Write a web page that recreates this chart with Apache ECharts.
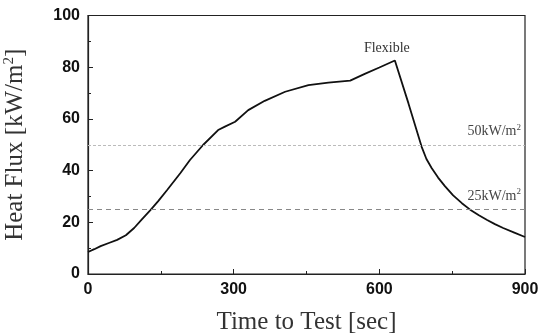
<!DOCTYPE html>
<html>
<head>
<meta charset="utf-8">
<script src="https://cdn.jsdelivr.net/npm/echarts@6/dist/echarts.min.js"></script>
<style>
  html, body { margin: 0; padding: 0; background: #fff; }
  #chart { width: 543px; height: 334px; }
</style>
</head>
<body>
<div id="chart"></div>
<script>
// time (sec) and heat flux (kW/m2)
var times = [0, 13, 26, 43, 60, 78, 95, 110, 129, 145, 163, 190, 210, 237, 268, 282, 303, 330, 364, 406, 454, 495, 540, 570, 600, 632, 660, 687, 697, 708, 721, 735, 752, 770, 787, 805, 822, 838, 855, 878, 900];
var flux  = [8.5, 9.6, 10.8, 12.0, 13.2, 15.0, 17.8, 20.9, 24.8, 28.3, 32.5, 39.0, 44.1, 49.9, 55.7, 57.0, 58.9, 63.4, 67.0, 70.5, 73.1, 74.0, 74.8, 77.4, 79.9, 82.6, 66.0, 49.3, 44.5, 40.9, 37.3, 34.0, 30.4, 27.4, 24.9, 22.7, 20.9, 19.3, 17.8, 16.0, 14.3];
var refLevels = [50, 25];
var refLabels = ['50kW/m{s|2}', '25kW/m{s|2}'];
var peakLabel = 'Flexible';

var points = times.map(function (t, i) { return [t, flux[i]]; });
var peakIdx = flux.indexOf(Math.max.apply(null, flux));

var serif = '"Liberation Serif", "DejaVu Serif", serif';
var sans = '"Liberation Sans", Arial, sans-serif';

var option = {
    animation: false,
    backgroundColor: '#fff',
    grid: {
        left: 88, right: 18, top: 15.5, bottom: 60,
        outerBoundsMode: 'none',
        containLabel: false,
        show: true, borderColor: '#222', borderWidth: 1.2
    },
    xAxis: {
        type: 'value',
        min: 0, max: 900, interval: 300,
        name: 'Time to Test [sec]',
        nameLocation: 'middle',
        nameGap: 36,
        nameTextStyle: { fontFamily: serif, fontSize: 25, color: '#333', verticalAlign: 'top' },
        axisLine: { lineStyle: { color: '#222', width: 1.2 } },
        axisTick: { inside: true, length: 5, lineStyle: { color: '#222' } },
        minorTick: { show: true, splitNumber: 2, length: 3, lineStyle: { color: '#222' } },
        splitLine: { show: false },
        axisLabel: { fontFamily: sans, fontWeight: 'bold', fontSize: 16, color: '#111', margin: 8 }
    },
    yAxis: {
        type: 'value',
        min: 0, max: 100, interval: 20,
        name: '{a|Heat Flux [kW/m}{s|2}{a|]}',
        nameLocation: 'middle',
        nameGap: 60,
        nameTextStyle: {
            rich: {
                a: { fontFamily: serif, fontSize: 25, color: '#333' },
                s: { fontFamily: serif, fontSize: 15, color: '#333', padding: [0, 0, 11, 0] }
            }
        },
        axisLine: { show: true, lineStyle: { color: '#222', width: 1.2 } },
        axisTick: { show: true, inside: true, length: 5, lineStyle: { color: '#222' } },
        minorTick: { show: true, splitNumber: 2, length: 3, lineStyle: { color: '#222' } },
        splitLine: { show: false },
        axisLabel: { fontFamily: sans, fontWeight: 'bold', fontSize: 16, color: '#111', margin: 8 }
    },
    series: [{
        type: 'line',
        data: points,
        showSymbol: false,
        smooth: false,
        lineStyle: { color: '#111', width: 1.8 },
        markPoint: {
            symbol: 'circle',
            symbolSize: 0,
            data: [{ coord: points[peakIdx], value: peakLabel }],
            label: {
                show: true,
                formatter: peakLabel,
                offset: [-8, -12],
                fontFamily: serif, fontSize: 14, color: '#333'
            }
        },
        markLine: {
            silent: true,
            symbol: 'none',
            data: refLevels.map(function (v, i) {
                return {
                    yAxis: v,
                    lineStyle: {
                        color: i === 0 ? '#bbb' : '#888',
                        type: i === 0 ? [3, 2] : [5, 4],
                        width: 1
                    },
                    label: {
                        show: true,
                        position: 'insideEndTop',
                        distance: [4, 5],
                        formatter: refLabels[i],
                        fontFamily: serif, fontSize: 14, color: '#444',
                        rich: { s: { fontFamily: serif, fontSize: 9, color: '#444', padding: [0, 0, 8, 0] } }
                    }
                };
            })
        }
    }]
};

var chart = echarts.init(document.getElementById('chart'));
chart.setOption(option);
</script>
</body>
</html>
